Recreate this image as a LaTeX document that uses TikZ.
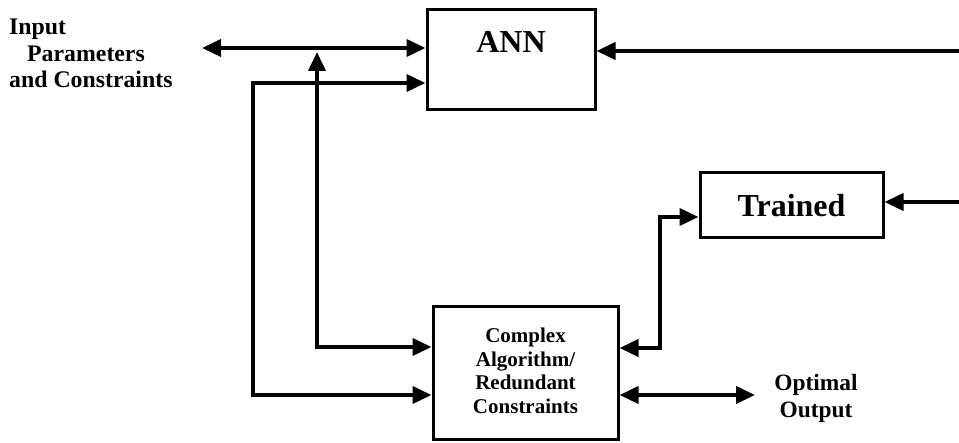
\documentclass[tikz,border=0pt]{standalone}
\usepackage{fontspec}
\setmainfont{Liberation Serif}
\usetikzlibrary{arrows.meta}
\begin{document}
\begin{tikzpicture}[x=1pt,y=-1pt,
  blk/.style={draw, line width=3pt, inner sep=0pt},
  conn/.style={line width=3.8pt, line cap=butt, line join=miter},
  tip/.style={-{Triangle[length=19pt,width=17pt]}},
  tips/.style={{Triangle[length=19pt,width=17pt]}-{Triangle[length=19pt,width=17pt]}},
  lbl/.style={font=\bfseries\fontsize{23.8}{26.5}\selectfont, inner sep=0pt},
  big/.style={font=\bfseries\fontsize{32}{36}\selectfont, inner sep=0pt}]
\useasboundingbox (0,0) rectangle (959,443);
% boxes
\node[blk, minimum width=168pt, minimum height=100pt] (ann) at (511,60) {};
\node[big, anchor=base] (anntext) at (511,53) {ANN};
\node[blk, minimum width=183pt, minimum height=65pt, big] (trained) at (791.5,205.5) {Trained};
\node[blk, minimum width=185pt, minimum height=133pt] (cplx) at (525.5,373.5) {};
\node[font=\bfseries\fontsize{21}{23.6}\selectfont, align=center, inner sep=0pt] (cplxtext) at (525.5,371) {Complex\\Algorithm/\\Redundant\\Constraints};
% texts
\node[lbl, align=left, anchor=north west] (input) at (9,19) {Input\\\hspace*{18pt}Parameters\\and Constraints};
\node[lbl, font=\bfseries\fontsize{23.4}{27}\selectfont, align=center] (opt) at (816,398) {Optimal\\Output};
% coordinates
\coordinate (inl) at (202,48);
\coordinate (rA) at (959,51);
\coordinate (rT) at (959,202);
\coordinate (optl) at (755,395);
\coordinate (v1) at (317,52);
\coordinate (c1) at (317,347);
\coordinate (c2) at (253,83);
\coordinate (c3) at (253,395);
\coordinate (c4) at (660,217);
\coordinate (c5) at (660,348);
% connectors
\draw[conn, tips] (inl) -- (inl -| ann.west);
\draw[conn, tips] (v1) -- (c1) -- (c1 -| cplx.west);
\draw[conn, tips] (c2 -| ann.west) -- (c2) -- (c3) -- (c3 -| cplx.west);
\draw[conn, tip] (rA) -- (rA -| ann.east);
\draw[conn, tip] (rT) -- (rT -| trained.east);
\draw[conn, tips] (c4 -| trained.west) -- (c4) -- (c5) -- (c5 -| cplx.east);
\draw[conn, tips] (cplx.east |- optl) -- (optl);
\end{tikzpicture}
\end{document}
